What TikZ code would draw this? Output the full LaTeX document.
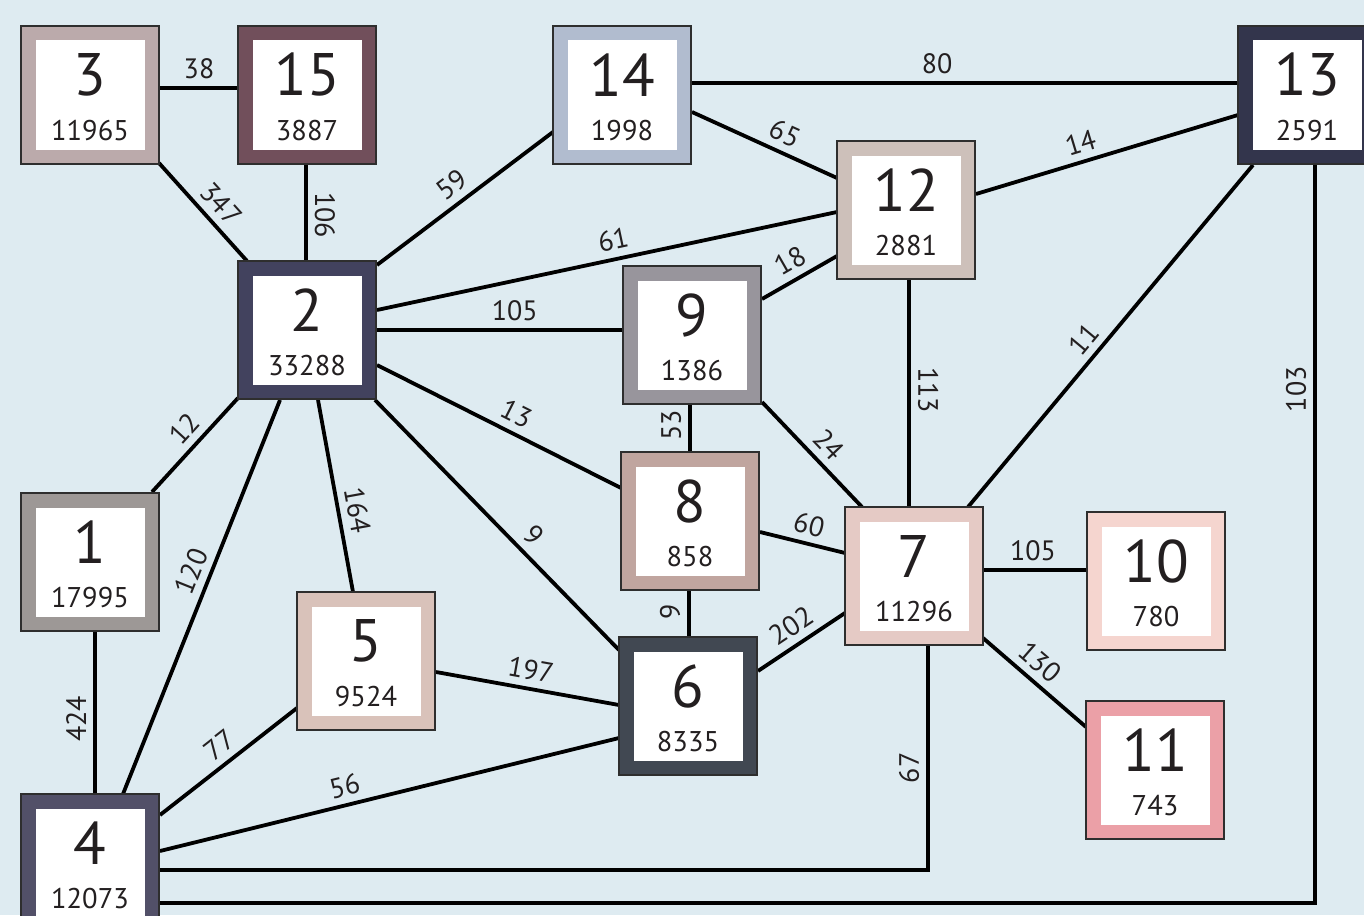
\documentclass[tikz,border=0pt]{standalone}
\usepackage{fontspec}
\setmainfont{PT Sans}
\usetikzlibrary{calc}
\pgfdeclarelayer{bg}
\pgfdeclarelayer{edges}
\pgfsetlayers{bg,edges,main}
\definecolor{bgc}{HTML}{DEEBF1}
\definecolor{txt}{HTML}{231F20}
\definecolor{outl}{HTML}{2E2E2E}
\definecolor{c1}{HTML}{9D9896}
\definecolor{c2}{HTML}{42425E}
\definecolor{c3}{HTML}{BBAAAB}
\definecolor{c4}{HTML}{525068}
\definecolor{c5}{HTML}{D9C2BA}
\definecolor{c6}{HTML}{414852}
\definecolor{c7}{HTML}{E5CAC5}
\definecolor{c8}{HTML}{C0A59F}
\definecolor{c9}{HTML}{98959C}
\definecolor{c10}{HTML}{F5D5CF}
\definecolor{c11}{HTML}{EBA0A7}
\definecolor{c12}{HTML}{CDC0BA}
\definecolor{c13}{HTML}{33354C}
\definecolor{c14}{HTML}{B1BCCF}
\definecolor{c15}{HTML}{714F5B}
\newcommand{\gbox}[6]{%
  \node[gframe, fill=#4] (#1) at (#2,#3) {};
  \node[innerbox] at (#1) {};
  \node[bignum] at ($(#1)+(0,-20)$) {#5};
  \node[smallnum] at ($(#1)+(0,35.5)$) {#6};
}
\begin{document}
\begin{tikzpicture}[x=1pt,y=-1pt,
  gframe/.style={draw=outl, line width=1.2pt, minimum size=138pt, inner sep=0pt},
  innerbox/.style={fill=white, minimum size=109pt, inner sep=0pt},
  bignum/.style={font=\fontsize{60}{60}\selectfont, text=txt, inner sep=0pt},
  smallnum/.style={font=\fontsize{28.5}{28.5}\selectfont, text=txt, inner sep=0pt},
  link/.style={line width=3.8pt, draw=black},
  lab/.style={sloped, above, font=\fontsize{28}{28}\selectfont, text=txt, inner sep=7pt}]
\useasboundingbox (0,0) rectangle (1364,915);
\begin{pgfonlayer}{bg}
\fill[bgc] (0,0) rectangle (1364,915);
\end{pgfonlayer}
\gbox{n3}{90}{95}{c3}{3}{11965}
\gbox{n15}{307}{95}{c15}{15}{3887}
\gbox{n2}{307}{330}{c2}{2}{33288}
\gbox{n14}{622}{95}{c14}{14}{1998}
\gbox{n12}{906}{210}{c12}{12}{2881}
\gbox{n13}{1307}{95}{c13}{13}{2591}
\gbox{n9}{692}{335}{c9}{9}{1386}
\gbox{n8}{690}{521}{c8}{8}{858}
\gbox{n7}{914}{576}{c7}{7}{11296}
\gbox{n6}{688}{706}{c6}{6}{8335}
\gbox{n10}{1156}{581}{c10}{10}{780}
\gbox{n11}{1155}{770}{c11}{11}{743}
\gbox{n1}{90}{562}{c1}{1}{17995}
\gbox{n5}{366}{661}{c5}{5}{9524}
\gbox{n4}{90}{863}{c4}{4}{12073}
\begin{pgfonlayer}{edges}
\draw[link] ($(n3)+(70,-7)$) -- node[lab,pos=0.5]{38} ($(n15)+(-69,-7)$);
\draw[link] ($(n3)+(69,68)$) -- node[lab,pos=0.547]{347} ($(n2)+(-60,-69)$);
\draw[link] ($(n15)+(-1,70)$) -- node[lab,pos=0.52]{106} ($(n2)+(-1,-69)$);
\draw[link] ($(n2)+(70,-65)$) -- node[lab,pos=0.49]{59} ($(n14)+(-69,37)$);
\draw[link] ($(n14)+(70,-12)$) -- node[lab,pos=0.449]{80} ($(n13)+(-69,-12)$);
\draw[link] ($(n14)+(70,17)$) -- node[lab,pos=0.586]{65} ($(n12)+(-69,-32)$);
\draw[link] ($(n12)+(70,-16)$) -- node[lab,pos=0.42]{14} ($(n13)+(-69,20)$);
\draw[link] ($(n2)+(70,-20)$) -- node[lab,pos=0.522]{61} ($(n12)+(-69,2)$);
\draw[link] ($(n9)+(70,-36)$) -- node[lab,pos=0.504]{18} ($(n12)+(-69,46)$);
\draw[link] ($(n2)+(70,0)$) -- node[lab,pos=0.56]{105} ($(n9)+(-69,-5)$);
\draw[link] ($(n2)+(70,35)$) -- node[lab,pos=0.537]{13} ($(n8)+(-69,-33)$);
\draw[link] ($(n8)+(0,-69)$) -- node[lab,pos=0.56]{53} ($(n9)+(-2,69)$);
\draw[link] ($(n9)+(70,67)$) -- node[lab,pos=0.533]{24} ($(n7)+(-52,-69)$);
\draw[link] ($(n12)+(3,70)$) -- node[lab,pos=0.485]{113} ($(n7)+(-5,-69)$);
\draw[link] ($(n7)+(54,-69)$) -- node[lab,pos=0.456]{11} ($(n13)+(-54,70)$);
\draw[link] ($(n4)+(70,40)$) -| node[lab,pos=0.848]{103} ($(n13)+(8,70)$);
\draw[link] ($(n4)+(70,7)$) -| node[lab,pos=0.728]{67} ($(n7)+(14,70)$);
\draw[link] ($(n7)+(69,-6)$) -- node[lab,pos=0.48]{105} ($(n10)+(-69,-11)$);
\draw[link] ($(n7)+(69,62)$) -- node[lab,pos=0.43]{130} ($(n11)+(-69,-43)$);
\draw[link] ($(n8)+(70,11)$) -- node[lab,pos=0.524]{60} ($(n7)+(-69,-23)$);
\draw[link] ($(n6)+(1,-69)$) -- node[lab,pos=0.54]{9} ($(n8)+(-1,70)$);
\draw[link] ($(n6)+(70,-35)$) -- node[lab,pos=0.507]{202} ($(n7)+(-69,37)$);
\draw[link] ($(n2)+(68,70)$) -- node[lab,pos=0.595]{9} ($(n6)+(-69,-56)$);
\draw[link] ($(n2)+(11,70)$) -- node[lab,pos=0.593]{164} ($(n5)+(-13,-69)$);
\draw[link] ($(n1)+(62,-70)$) -- node[lab,pos=0.54]{12} ($(n2)+(-69,68)$);
\draw[link] ($(n4)+(33,-69)$) -- node[lab,pos=0.547]{120} ($(n2)+(-27,70)$);
\draw[link] ($(n4)+(5,-69)$) -- node[lab,pos=0.46]{424} ($(n1)+(5,69)$);
\draw[link] ($(n4)+(70,-48)$) -- node[lab,pos=0.515]{77} ($(n5)+(-69,47)$);
\draw[link] ($(n5)+(70,11)$) -- node[lab,pos=0.5]{197} ($(n6)+(-69,-1)$);
\draw[link] ($(n4)+(70,-12)$) -- node[lab,pos=0.412]{56} ($(n6)+(-69,32)$);
\end{pgfonlayer}
\end{tikzpicture}
\end{document}
